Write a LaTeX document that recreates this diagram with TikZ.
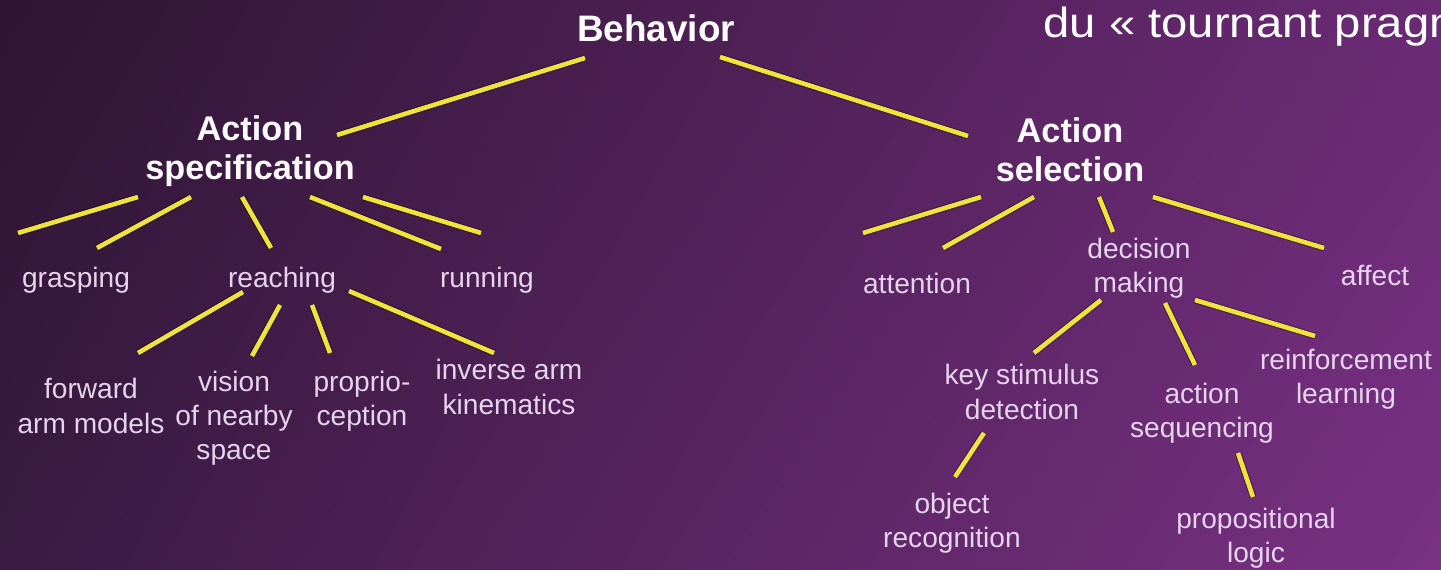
\documentclass[tikz,border=0pt]{standalone}
\usepackage{fontspec}
\setmainfont{Liberation Sans}
\usepackage{tikz}
\usetikzlibrary{shadings}

\definecolor{bgTL}{HTML}{2E1532}
\definecolor{bgTR}{HTML}{6A2A74}
\definecolor{bgBL}{HTML}{3A1A42}
\definecolor{bgBR}{HTML}{7A3184}
\definecolor{branchY}{HTML}{F0E43C}
\definecolor{labelC}{HTML}{E6D4EC}

\tikzset{
  root/.style={font=\bfseries\fontsize{21}{24}\selectfont, text=white!92!labelC, align=center, inner sep=0pt},
  head/.style={font=\bfseries\fontsize{19.5}{22}\selectfont, text=white!88!labelC, align=center, inner sep=0pt},
  leaf/.style={font=\fontsize{16}{19.5}\selectfont, text=labelC, align=center, inner sep=0pt},
  branch/.style={draw=branchY, line width=2.6pt,
    preaction={draw=black, line width=3.8pt, opacity=0.35}},
}

\begin{document}
\begin{tikzpicture}[x=0.02cm, y=-0.02cm]
          % --- 1. 背景 ---
          \useasboundingbox (0,0) rectangle (1441,570);
          \clip (0,0) rectangle (1441,570);
          \shade[upper left=bgTL, upper right=bgTR, lower left=bgBL, lower right=bgBR]
            (0,0) rectangle (1441,570);

          % --- 2. 標題 (被截斷) ---
          \node[anchor=base west, text=white, font=\fontsize{24}{28}\selectfont,
            inner sep=0pt, xscale=1.12] (title) at (1043,38) {du « tournant pragmatique »};

          % --- 3. 主節點 ---
          \node[root] (behavior) at (656,28) {Behavior};
          \node[head] (spec) at (250,151) {Action\\specification};
          \node[head] (sel) at (1070,150) {Action\\selection};

          % --- 4. 第二層 ---
          \node[leaf] (grasp) at (76,280) {grasping};
          \node[leaf] (reach) at (282,280) {reaching};
          \node[leaf] (run) at (487,280) {running};
          \node[leaf] (attn) at (917,283) {attention};
          \node[leaf] (decide) at (1139,268) {decision\\making};
          \node[leaf] (affect) at (1375,275) {affect};

          % --- 5. 第三層 ---
          \node[leaf] (fwd) at (91,406) {forward\\arm models};
          \node[leaf] (vision) at (234,418) {vision\\of nearby\\space};
          \node[leaf] (proprio) at (362,401) {proprio-\\ception};
          \node[leaf] (inverse) at (509,387) {inverse arm\\kinematics};
          \node[leaf] (key) at (1022,392) {key stimulus\\detection};
          \node[leaf] (seq) at (1202,413) {action\\sequencing};
          \node[leaf] (reinf) at (1346,379) {reinforcement\\learning};

          % --- 6. 第四層 ---
          \node[leaf] (object) at (952,523) {object\\recognition};
          \node[leaf] (logic) at (1256,538) {propositional\\logic};

          % --- 7. 連線端點 ---
          \coordinate (b_1) at (585,58);   \coordinate (sp_0) at (337,135);
          \coordinate (b_2) at (720,57);   \coordinate (se_0) at (968,136);
          \coordinate (sp_1) at (138,197); \coordinate (gr_1) at (18,233);
          \coordinate (sp_2) at (191,197); \coordinate (gr_2) at (97,248);
          \coordinate (sp_3) at (242,197); \coordinate (re_0) at (271,248);
          \coordinate (sp_4) at (310,197); \coordinate (ru_1) at (441,249);
          \coordinate (sp_5) at (363,197); \coordinate (ru_2) at (481,233);
          \coordinate (re_1) at (243,292); \coordinate (fw_0) at (138,353);
          \coordinate (re_2) at (280,305); \coordinate (vi_0) at (252,356);
          \coordinate (re_3) at (312,305); \coordinate (pr_0) at (330,353);
          \coordinate (re_4) at (349,291); \coordinate (in_0) at (494,353);
          \coordinate (se_1) at (981,197); \coordinate (at_1) at (863,233);
          \coordinate (se_2) at (1034,197); \coordinate (at_2) at (943,248);
          \coordinate (se_3) at (1099,197); \coordinate (de_0) at (1113,232);
          \coordinate (se_4) at (1153,197); \coordinate (af_0) at (1324,248);
          \coordinate (de_1) at (1101,300); \coordinate (ke_0) at (1034,353);
          \coordinate (de_2) at (1165,303); \coordinate (sq_0) at (1195,365);
          \coordinate (de_3) at (1195,300); \coordinate (rf_0) at (1315,336);
          \coordinate (ke_1) at (984,433); \coordinate (ob_0) at (955,477);
          \coordinate (sq_1) at (1238,453); \coordinate (lo_0) at (1253,497);

          % --- 8. 繪製連線 ---
          \foreach \a/\b in {b_1/sp_0, b_2/se_0, sp_1/gr_1, sp_2/gr_2, sp_3/re_0,
              sp_4/ru_1, sp_5/ru_2, re_1/fw_0, re_2/vi_0, re_3/pr_0, re_4/in_0,
              se_1/at_1, se_2/at_2, se_3/de_0, se_4/af_0, de_1/ke_0, de_2/sq_0,
              de_3/rf_0, ke_1/ob_0, sq_1/lo_0}
            \draw[branch] (\a) -- (\b);

      \end{tikzpicture}
\end{document}
